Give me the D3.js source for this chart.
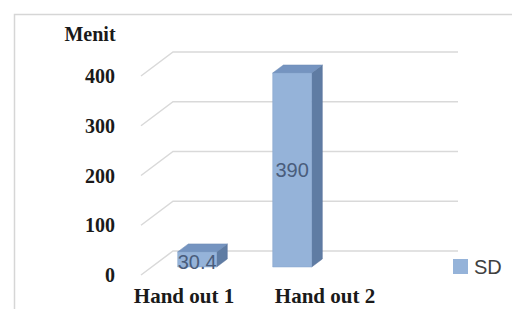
<!DOCTYPE html>
<html>
<head>
<meta charset="utf-8">
<script src="https://cdn.jsdelivr.net/npm/d3@7/dist/d3.min.js"></script>
<style>
  html, body { margin: 0; padding: 0; background: #fff; }
  svg { display: block; }
</style>
</head>
<body>
<svg id="chart" width="512" height="309"></svg>
<script>
// data
var categories = ["Hand out 1", "Hand out 2"];
var sdValues = [30.4, 390];
var valueLabels = ["30.4", "390"];
var yTicks = [0, 100, 200, 300, 400];
var seriesName = "SD";
var axisTitle = "Menit";

var svg = d3.select("#chart");

// 3d depth: t=0 front plane, t=1 back wall
var depthX = 32, depthY = 24;
var barT0 = 1 / 3, barT1 = 2 / 3;

var y = d3.scaleLinear().domain([0, 400]).range([251, 52]);
var x = d3.scaleBand().domain(categories).range([167, 301]).paddingInner(0.59).paddingOuter(0);
// category labels sit on their own spots
var xLabel = d3.scalePoint().domain(categories).range([184, 325]);
var floorX = [141, 426];

function pt(xf, v, t) {
    return [xf + depthX * t, y(v) + depthY * (1 - t)];
}
function poly(points) {
    return points.map(function (p) { return p[0] + "," + p[1]; }).join(" ");
}

// chart frame
svg.append("rect")
    .attr("x", 14.5).attr("y", 14.5)
    .attr("width", 530).attr("height", 320)
    .attr("fill", "none")
    .attr("stroke", "#d6d6d6")
    .attr("stroke-width", 1.5);

// gridlines (side wall diagonal + back wall)
var grid = svg.append("g");
yTicks.forEach(function (v) {
    var a = pt(floorX[0], v, 0), b = pt(floorX[0], v, 1), c = pt(floorX[1], v, 1);
    grid.append("polyline")
        .attr("points", poly([a, b, c]))
        .attr("fill", "none")
        .attr("stroke", "#d9d9d9")
        .attr("stroke-width", 1.5);
});

// tick labels
svg.append("g").selectAll("text")
    .data(yTicks)
    .join("text")
    .attr("x", 115)
    .attr("y", function (d) { return pt(floorX[0], d, 0)[1] + 7; })
    .attr("text-anchor", "end")
    .attr("font-family", "'Liberation Serif', 'Times New Roman', serif")
    .attr("font-weight", "bold")
    .attr("font-size", 20)
    .attr("fill", "#1a1a1a")
    .text(function (d) { return d; });

svg.append("text")
    .attr("x", 90).attr("y", 41)
    .attr("text-anchor", "middle")
    .attr("font-family", "'Liberation Serif', 'Times New Roman', serif")
    .attr("font-weight", "bold")
    .attr("font-size", 20)
    .attr("fill", "#1a1a1a")
    .text(axisTitle);

// bars
var bars = svg.append("g");
categories.forEach(function (c, i) {
    var v = sdValues[i];
    var x0 = x(c), x1 = x(c) + x.bandwidth();
    // side
    bars.append("polygon")
        .attr("points", poly([pt(x1, 0, barT0), pt(x1, 0, barT1), pt(x1, v, barT1), pt(x1, v, barT0)]))
        .attr("fill", "#5f7ca3").attr("stroke", "#56709a").attr("stroke-width", 0.5);
    // top
    bars.append("polygon")
        .attr("points", poly([pt(x0, v, barT0), pt(x1, v, barT0), pt(x1, v, barT1), pt(x0, v, barT1)]))
        .attr("fill", "#7594c0").attr("stroke", "#6a88b3").attr("stroke-width", 0.5);
    // front
    bars.append("polygon")
        .attr("points", poly([pt(x0, 0, barT0), pt(x1, 0, barT0), pt(x1, v, barT0), pt(x0, v, barT0)]))
        .attr("fill", "#95b3d9").attr("stroke", "#86a4cc").attr("stroke-width", 0.5);
});

// value labels centred on the front face
svg.append("g").selectAll("text")
    .data(categories)
    .join("text")
    .attr("x", function (c) { return pt(x(c) + x.bandwidth() / 2, 0, barT0)[0]; })
    .attr("y", function (c, i) { return (pt(0, 0, barT0)[1] + pt(0, sdValues[i], barT0)[1]) / 2 + 7 + (i == 0 ? 3 : 0); })
    .attr("text-anchor", "middle")
    .attr("font-family", "'Liberation Sans', Arial, sans-serif")
    .attr("font-size", 20)
    .attr("fill", "#4a5d7c")
    .text(function (c, i) { return valueLabels[i]; });

// category labels
svg.append("g").selectAll("text")
    .data(categories)
    .join("text")
    .attr("x", function (c) { return xLabel(c); })
    .attr("y", 303)
    .attr("text-anchor", "middle")
    .attr("font-family", "'Liberation Serif', 'Times New Roman', serif")
    .attr("font-weight", "bold")
    .attr("font-size", 21)
    .attr("fill", "#1a1a1a")
    .text(function (c) { return c; });

// legend
var legend = svg.append("g").attr("transform", "translate(453,259)");
legend.append("rect")
    .attr("width", 15).attr("height", 15)
    .attr("fill", "#95b3d9");
legend.append("text")
    .attr("x", 21).attr("y", 15)
    .attr("font-family", "'Liberation Sans', Arial, sans-serif")
    .attr("font-size", 20)
    .attr("fill", "#404040")
    .text(seriesName);
</script>
</body>
</html>
